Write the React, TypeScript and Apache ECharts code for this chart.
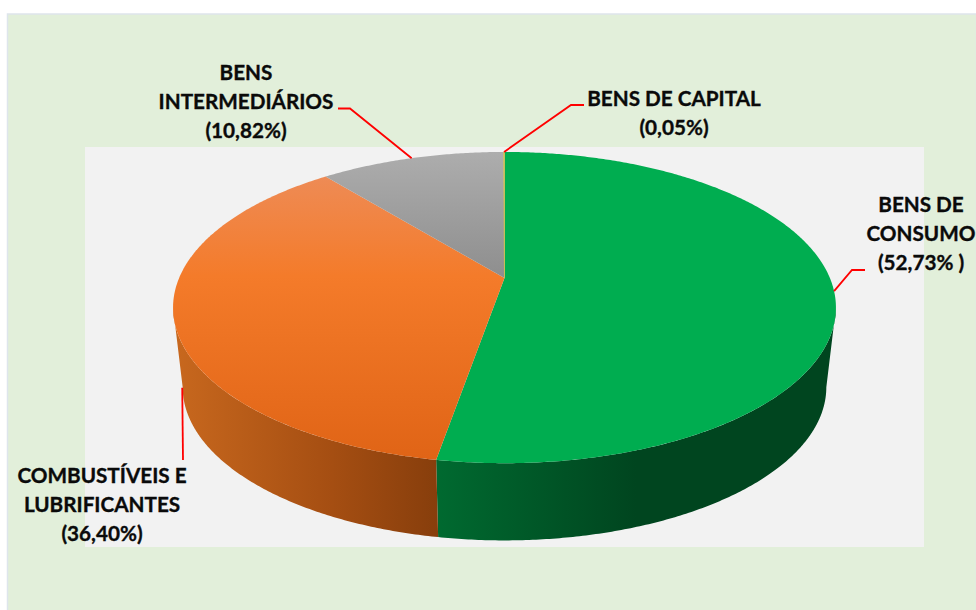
import React, { useEffect, useRef } from "react";
import * as echarts from "echarts";

const categories = ["BENS DE CONSUMO", "COMBUSTÍVEIS E LUBRIFICANTES", "BENS INTERMEDIÁRIOS", "BENS DE CAPITAL"];
const shares = [52.73, 36.4, 10.82, 0.05];
const labelTexts = ["BENS DE\nCONSUMO\n(52,73% )", "COMBUSTÍVEIS E\nLUBRIFICANTES\n(36,40%)", "BENS\nINTERMEDIÁRIOS\n(10,82%)", "BENS DE CAPITAL\n(0,05%)"];
const labelCentres = [[921, 233], [102, 504], [246, 101], [674, 112.5]];
const leaderElbows = [[[852, 270], [865, 270]], [[183, 460]], [[350, 108.5], [338, 108.5]], [[571, 105], [584, 105]]];
const leaderWallDepth = [0, 0.88, 0, 0];

const CX = 504.5, TOP_Y = 278, BOTTOM_Y = 358;
const RX = 325.4, RY = 150, PERSPECTIVE = 0.19;
const BOTTOM_SX = 0.971, BOTTOM_SY = 0.985;
const WALL_FROM = 101, WALL_TO = 259;
const total = shares.reduce((a, b) => a + b, 0);

const grad = (x2: number, y2: number, stops: [number, string][]) =>
  new echarts.graphic.LinearGradient(0, 0, x2, y2, stops.map(([offset, color]) => ({ offset, color })));

const topFills = [
  "#00AD50",
  grad(0, 1, [[0, "#EE8B55"], [0.35, "#F47B2A"], [1, "#E06416"]]),
  grad(0, 1, [[0, "#ADADAD"], [1, "#8E8E8E"]]),
  "#C9BE55",
];
const topStrokes = [undefined, undefined, undefined, "#C9BE55"];
const wallFills = [
  grad(1, 0, [[0, "#006A30"], [0.5, "#00451F"], [1, "#00451F"]]),
  grad(1, 0, [[0, "#C8681E"], [0.6, "#A54E12"], [1, "#873E0C"]]),
  "#666666",
  "#666666",
];

function project(deg: number, level: "top" | "bottom") {
  const t = (deg * Math.PI) / 180;
  const u = Math.sin(t), v = Math.cos(t);
  const k = 1 / (1 + PERSPECTIVE * v);
  return level === "top"
    ? [CX + RX * u * k, TOP_Y - RY * v * k]
    : [CX + BOTTOM_SX * RX * u * k, BOTTOM_Y - BOTTOM_SY * RY * v * k];
}

function arc(a: number, b: number, level: "top" | "bottom") {
  const n = Math.max(1, Math.ceil(Math.abs(b - a) * 2));
  const pts: number[][] = [];
  for (let i = 0; i <= n; i++) pts.push(project(a + ((b - a) * i) / n, level));
  return pts;
}

function sliceAngles(i: number) {
  let before = 0;
  for (let j = 0; j < i; j++) before += shares[j];
  return [(before / total) * 360, ((before + shares[i]) / total) * 360];
}

const seriesData = shares.map((value, i) => ({ name: categories[i], value }));

function renderWall(params: any) {
  const i = params.dataIndex;
  const [a0, a1] = sliceAngles(i);
  const a = Math.max(a0, WALL_FROM), b = Math.min(a1, WALL_TO);
  if (b <= a) return { type: "group", children: [] };
  return {
    type: "polygon",
    shape: { points: [...arc(a, b, "top"), ...arc(b, a, "bottom")] },
    style: { fill: wallFills[i] },
    silent: true,
  };
}

function renderTop(params: any) {
  const i = params.dataIndex;
  const [a0, a1] = sliceAngles(i);
  const stroke = topStrokes[i];
  return {
    type: "polygon",
    shape: { points: [[CX, TOP_Y], ...arc(a0, a1, "top")] },
    style: { fill: topFills[i], stroke: stroke ?? "none", lineWidth: stroke ? 0.8 : 0 },
    silent: true,
  };
}

function renderLeader(params: any) {
  const i = params.dataIndex;
  const [a0, a1] = sliceAngles(i);
  const mid = (a0 + a1) / 2;
  const t = project(mid, "top"), l = project(mid, "bottom"), d = leaderWallDepth[i];
  const anchor = [t[0] + (l[0] - t[0]) * d, t[1] + (l[1] - t[1]) * d];
  return {
    type: "polyline",
    shape: { points: [anchor, ...leaderElbows[i]] },
    style: { stroke: "#FF0000", lineWidth: 1.8, fill: "none" },
    silent: true,
  };
}

export default function App() {
  const ref = useRef<HTMLDivElement>(null);
  useEffect(() => {
    const chart = echarts.init(ref.current!, undefined, { renderer: "svg" });
    chart.setOption({
      animation: false,
      backgroundColor: "#FFFFFF",
      graphic: [
        { type: "rect", z: -2, shape: { x: 7.5, y: 14, width: 969, height: 597 }, style: { fill: "#E2EFDA", stroke: "#DEE5EC", lineWidth: 1.5 } },
        { type: "rect", z: -1, shape: { x: 85, y: 147, width: 839, height: 400 }, style: { fill: "#F2F2F2" } },
        ...labelTexts.map((text, i) => ({
          type: "text",
          z: 20,
          x: labelCentres[i][0],
          y: labelCentres[i][1],
          style: {
            text,
            fill: "#0A0A0A",
            stroke: "#0A0A0A",
            lineWidth: 0.35,
            font: "bold 20.7px Lato",
            lineHeight: 29,
            align: "center",
            verticalAlign: "middle",
          },
        })),
      ],
      series: [
        { type: "custom", name: "wall", coordinateSystem: "none", z: 2, renderItem: renderWall, data: seriesData, silent: true },
        { type: "custom", name: "top", coordinateSystem: "none", z: 3, renderItem: renderTop, data: seriesData, silent: true },
        { type: "custom", name: "leader", coordinateSystem: "none", z: 4, renderItem: renderLeader, data: seriesData, silent: true },
      ],
    });
    return () => chart.dispose();
  }, []);
  return <div ref={ref} style={{ position: "absolute", left: 0, top: 0, width: 976, height: 610 }} />;
}
